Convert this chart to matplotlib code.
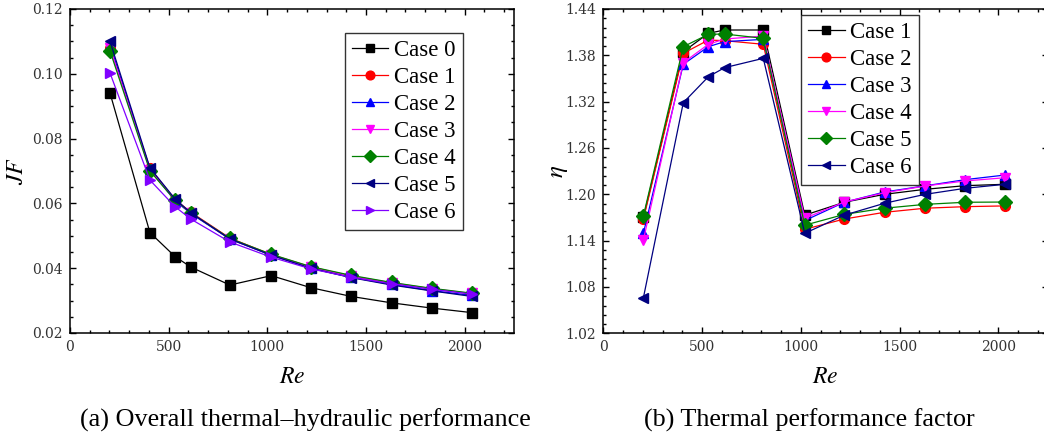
import matplotlib
matplotlib.use("Agg")
import matplotlib.pyplot as plt
from matplotlib.ticker import MultipleLocator, FuncFormatter

# ---------------- data ----------------
Re = [203, 405, 532, 614, 810, 1020, 1220, 1424, 1630, 1832, 2035]

jf_labels = ["Case 0", "Case 1", "Case 2", "Case 3", "Case 4", "Case 5", "Case 6"]
jf_case0 = [0.0940, 0.0510, 0.0436, 0.0403, 0.0348, 0.0377, 0.0340, 0.0313, 0.0293, 0.0277, 0.0263]
jf_case1 = [0.1080, 0.0708, 0.0612, 0.0572, 0.0493, 0.0442, 0.0404, 0.0376, 0.0354, 0.0336, 0.0321]
jf_case2 = [0.1090, 0.0705, 0.0608, 0.0568, 0.0490, 0.0440, 0.0400, 0.0372, 0.0350, 0.0331, 0.0316]
jf_case3 = [0.1080, 0.0703, 0.0610, 0.0570, 0.0491, 0.0441, 0.0403, 0.0376, 0.0355, 0.0337, 0.0322]
jf_case4 = [0.1070, 0.0700, 0.0610, 0.0570, 0.0492, 0.0443, 0.0405, 0.0378, 0.0356, 0.0338, 0.0323]
jf_case5 = [0.1100, 0.0710, 0.0614, 0.0570, 0.0490, 0.0440, 0.0400, 0.0371, 0.0348, 0.0330, 0.0313]
jf_case6 = [0.1002, 0.0672, 0.0590, 0.0551, 0.0481, 0.0434, 0.0398, 0.0372, 0.0352, 0.0335, 0.0320]

eta_labels = ["Case 1", "Case 2", "Case 3", "Case 4", "Case 5", "Case 6"]
eta_case1 = [1.1700, 1.3847, 1.4085, 1.4128, 1.4128, 1.1730, 1.1897, 1.2000, 1.2065, 1.2112, 1.2130]
eta_case2 = [1.1677, 1.3826, 1.3998, 1.3990, 1.3943, 1.1547, 1.1680, 1.1767, 1.1820, 1.1840, 1.1850]
eta_case3 = [1.1495, 1.3684, 1.3912, 1.3977, 1.4007, 1.1660, 1.1897, 1.2030, 1.2110, 1.2190, 1.2250]
eta_case4 = [1.1410, 1.3705, 1.3943, 1.4011, 1.4050, 1.1690, 1.1900, 1.2020, 1.2108, 1.2173, 1.2215]
eta_case5 = [1.1720, 1.3912, 1.4072, 1.4076, 1.4020, 1.1600, 1.1740, 1.1820, 1.1870, 1.1897, 1.1900]
eta_case6 = [1.0660, 1.3187, 1.3523, 1.3640, 1.3761, 1.1495, 1.1730, 1.1884, 1.2000, 1.2078, 1.2130]

captions = ["(a) Overall thermal\u2013hydraulic performance", "(b) Thermal performance factor"]

# ---------------- styles ----------------
jf_styles = [("black", "s"), ("red", "o"), ("blue", "^"), ("magenta", "v"),
             ("green", "D"), ("#000080", "<"), ("#8000FF", ">")]
eta_styles = [("black", "s"), ("red", "o"), ("blue", "^"), ("magenta", "v"),
              ("green", "D"), ("#000080", "<")]

plt.rcParams["font.family"] = ["Liberation Serif", "DejaVu Serif"]
plt.rcParams["mathtext.fontset"] = "stix"

W, H = 1044, 437
fig = plt.figure(figsize=(W / 100, H / 100), dpi=100)

ax1 = fig.add_axes([70 / W, 1 - 333 / H, 444 / W, 324 / H])
ax2 = fig.add_axes([603.3 / W, 1 - 333.3 / H, 444.4 / W, 324.3 / H])

def style_axes(ax, ymin, ymax, ymaj, ymin_step, fmt):
    ax.set_xlim(0, 2250)
    ax.set_ylim(ymin, ymax)
    ax.xaxis.set_major_locator(MultipleLocator(500))
    ax.xaxis.set_minor_locator(MultipleLocator(100))
    ax.yaxis.set_major_locator(MultipleLocator(ymaj))
    ax.yaxis.set_minor_locator(MultipleLocator(ymin_step))
    ax.yaxis.set_major_formatter(FuncFormatter(fmt))
    ax.tick_params(which="both", direction="in", top=True, right=True,
                   width=1.0, colors="black", labelcolor="#333333")
    ax.tick_params(which="major", length=4, pad=5, labelsize=10)
    ax.tick_params(which="minor", length=2.2)
    for s in ax.spines.values():
        s.set_linewidth(1.1)
    for t in ax.get_xticklabels() + ax.get_yticklabels():
        t.set_family(["DejaVu Serif"])

jf_series = [jf_case0, jf_case1, jf_case2, jf_case3, jf_case4, jf_case5, jf_case6]
for vals, lab, (c, m) in zip(jf_series, jf_labels, jf_styles):
    ax1.plot(Re, vals, color=c, marker=m, markersize=7, linewidth=0.9, label=lab)

eta_series = [eta_case1, eta_case2, eta_case3, eta_case4, eta_case5, eta_case6]
for vals, lab, (c, m) in zip(eta_series, eta_labels, eta_styles):
    ax2.plot(Re, vals, color=c, marker=m, markersize=7, linewidth=0.9, label=lab)

style_axes(ax1, 0.02, 0.12, 0.02, 0.005, lambda v, p: f"{v:.2f}")
style_axes(ax2, 1.02, 1.44, 0.06, 0.012, lambda v, p: f"{v:.2f}")

leg_kw = dict(fontsize=16.5, frameon=True, fancybox=False, edgecolor="black",
              handlelength=1.6, handletextpad=0.25, labelspacing=0.26,
              borderpad=0.3, borderaxespad=0.0, loc="upper left", markerscale=0.9)
l1 = ax1.legend(bbox_to_anchor=(0.619, 0.926), **leg_kw)
l2 = ax2.legend(bbox_to_anchor=(0.445, 0.981), **leg_kw)
for l in (l1, l2):
    l.get_frame().set_linewidth(1.0)

ax1.set_xlabel("$Re$", fontsize=17)
ax2.set_xlabel("$Re$", fontsize=17)
ax1.set_ylabel("$JF$", fontsize=17)
ax2.set_ylabel("$\\eta$", fontsize=18)
ax1.xaxis.set_label_coords(0.5, -0.105, transform=ax1.transAxes)
ax2.xaxis.set_label_coords(0.5, -0.105, transform=ax2.transAxes)
ax1.yaxis.set_label_coords(-0.094, 0.5, transform=ax1.transAxes)
ax2.yaxis.set_label_coords(-0.075, 0.5, transform=ax2.transAxes)

fig.text(305 / W, 1 - 427 / H, captions[0], ha="center", va="baseline", fontsize=18.8)
fig.text(809 / W, 1 - 427 / H, captions[1], ha="center", va="baseline", fontsize=18.8)

fig.savefig("out.png", dpi=100)
